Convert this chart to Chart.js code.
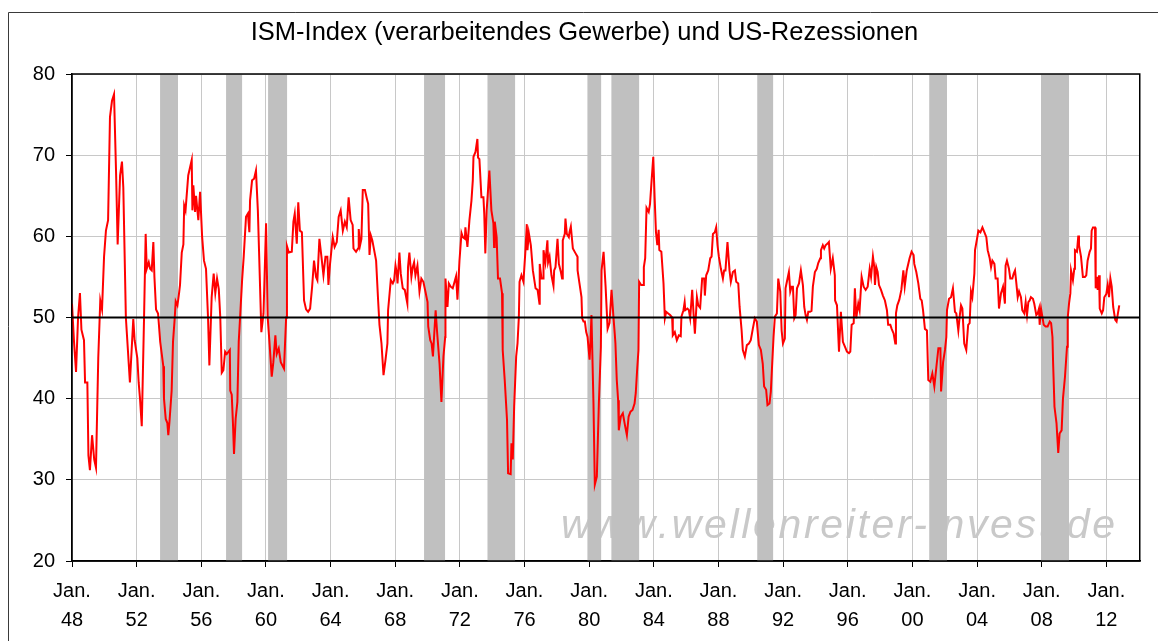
<!DOCTYPE html>
<html>
<head>
<meta charset="utf-8">
<title>ISM-Index und US-Rezessionen</title>
<script src="https://cdn.jsdelivr.net/npm/chart.js@4/dist/chart.umd.min.js"></script>
<style>
    html, body { margin: 0; padding: 0; background: #fff; }
    canvas { display: block; }
</style>
</head>
<body>
<canvas id="ismChart" width="1158" height="641"></canvas>
<script>
// ISM manufacturing index, [months since Jan. 1948, value]
const ism1940s = [
    [0, 51.7], [1.5, 47], [3, 43.3], [4.5, 50], [5.9, 53], [7, 48.5], [8.9, 47.2], [9.7, 42], [11.4, 42],
    [12.2, 33], [13.3, 31.2], [14.9, 35.5], [16.5, 32.5], [17.8, 31.5], [19.5, 45], [21, 52.1], [22.3, 51]
];
const ism1950s = [
    [23.8, 57.5], [25.2, 60.7], [26.8, 62], [28.2, 74.7], [29.7, 76.7], [31.2, 77.5], [32.7, 68], [33.9, 59],
    [35.7, 67.5], [37.1, 69.2], [38.1, 66], [40, 50], [43, 42], [45.5, 49.8], [46.5, 47.2], [48.5, 45],
    [49.5, 42], [50.5, 40], [51.8, 36.6], [53.5, 50], [54.7, 60.3], [55.5, 56], [57, 56.8], [58, 56],
    [59.2, 55.8], [60.4, 59.3], [61.2, 55], [62.4, 51], [63.9, 50.5], [65.5, 47], [67.8, 44], [68.3, 40],
    [69.6, 37.5], [70.8, 37], [71.5, 35.5], [72.3, 37], [74, 41], [75, 47], [76.3, 50], [77, 52],
    [78.3, 51.5], [79.5, 53], [80.2, 54], [81.5, 58], [82.7, 59], [83.3, 63.8], [84.3, 63.2], [86.3, 67.5],
    [88.9, 69.4], [89.4, 63.2], [90.1, 66.3], [91.4, 63], [92.1, 65], [93.8, 62], [95.1, 65.5], [96.6, 60],
    [98, 57], [99.5, 56], [101, 50], [102, 44.1], [103.7, 52.5], [105.2, 55.4], [106.4, 53], [107.7, 54.8],
    [109, 53.5], [110.1, 50], [111.2, 43.2], [112.4, 43.5], [113.7, 45.8], [114.9, 45.5], [117.2, 46],
    [117.5, 41], [118.6, 40.5], [119.5, 37], [120.3, 33.2], [121.5, 37.5], [122.8, 39.6], [123.8, 47],
    [124.8, 50], [126.3, 54.6], [127.5, 57.5], [129.2, 62.4], [130.6, 62.8], [131.7, 60.5], [132.2, 64.4],
    [133.7, 66.9], [135.2, 67.1], [136.6, 68.1], [138, 63.2], [139, 57.5], [140.6, 48.2], [142.2, 50.5]
];
const ism1960s = [
    [144.1, 61.6], [145.3, 50], [146.6, 47], [148.3, 42.7], [149.5, 44.5], [151, 47.8], [152, 45.5],
    [153.5, 46.2], [155, 44.5], [157.4, 43.7], [159, 50], [159.6, 58.8], [161, 58], [163.2, 58.1],
    [164.4, 61.8], [165.4, 62.8], [166.9, 59.1], [168, 64.2], [169.2, 60.7], [170.7, 60.5], [172.3, 52.1],
    [173.8, 51], [175.3, 50.7], [176.8, 51.1], [178.3, 53.8], [179.7, 57], [181.2, 55], [182.2, 54.6],
    [183.7, 59.7], [185.2, 57.5], [186.7, 55.2], [188.2, 57.5], [189.6, 57.5], [190.4, 54], [191.6, 56.6],
    [193.6, 59.9], [195, 58.7], [196.6, 59.3], [198, 62.4], [199.5, 63.2], [201.1, 60.7], [202.6, 61.8],
    [204, 61.1], [205.4, 64.8], [206.9, 62], [208.4, 61.4], [209, 58.5], [210.9, 58.1], [212.4, 58.5],
    [212.9, 60.9], [213.9, 58.9], [214.9, 59.7], [215.9, 65.7], [217.5, 65.7], [219, 64.6], [219.9, 64],
    [220.9, 57.7], [221.9, 60.1], [223, 59.5], [225.8, 57], [227.3, 52.1], [228.3, 49.1], [229.8, 46.8],
    [231.3, 42.9], [232.8, 44.8], [234.2, 46.8], [234.7, 50.9], [236.7, 54.6], [238.2, 54.2], [239.2, 54.6],
    [240.2, 56.4], [241.2, 55.4], [241.7, 54.2], [243.1, 58], [244.1, 55.4], [245.6, 53.6], [247.1, 53.4],
    [249, 51.7], [249.5, 56.2], [250.5, 58], [252, 55], [253, 56.2], [254, 56.8], [255, 55.2], [256.5, 56.4],
    [258, 53.2], [259.4, 54.8], [260.9, 54.4], [262.4, 53.2]
];
const ism1970s = [
    [264, 51.9], [264.5, 48.9], [266, 47.2], [267, 46.8], [268, 45.2], [270, 50.9], [271, 48.4],
    [272.9, 44.3], [274.3, 39.6], [275.8, 45.2], [277.1, 47.6], [277.3, 54.8], [278.8, 51.3], [279.8, 54.2],
    [281.2, 53.8], [282.7, 53.6], [283.7, 54.2], [285.2, 55.1], [286.2, 52.2], [287.7, 57], [289.2, 60.4],
    [290.2, 59.9], [291.7, 59.7], [292.1, 61.1], [293.6, 58.7], [295.1, 62], [296.6, 64.4], [297.6, 66.9],
    [298.1, 69.8], [299.6, 70.4], [301, 72], [301.5, 69.7], [302.5, 69.5], [304, 64.8], [305.5, 64.8],
    [306.1, 62.8], [306.9, 57.9], [307.9, 63.2], [309.4, 66.9], [309.9, 68.1], [311.4, 63.2], [312.9, 61.6],
    [313.4, 58.7], [313.9, 61.8], [315.3, 59.9], [316.3, 54.8], [317.8, 54.8], [319.3, 53], [319.8, 46],
    [321.3, 42.3], [323, 37.4], [323.8, 30.8], [325.7, 30.7], [326.3, 34.5], [327.3, 32.5], [328.3, 39],
    [329.8, 45.2], [330.8, 46.8], [331.8, 50.1], [332.3, 54.4], [333.7, 55.2], [335.2, 54.4], [336.7, 58.3],
    [337.7, 61.5], [338.2, 58.3], [339.2, 60.4], [340.7, 58.9], [342.2, 55.8], [344.2, 53.6], [345.7, 53.4],
    [347.1, 51.7], [347.3, 56.6], [348.6, 54.8], [349.8, 54.8], [350.1, 58.3], [351.5, 56.8], [353, 59.5],
    [353.5, 56.8], [354.6, 57.5], [356, 55.2], [357.5, 53.9], [358, 55.8], [359, 56.2], [360.5, 59.7],
    [361.5, 56.6], [363, 55.6], [363.9, 54.8], [364.4, 59.5], [365.9, 60.3], [366.4, 62.2], [367.4, 60.3],
    [368.9, 59.9], [369.4, 60.5], [370.4, 61.2], [371.9, 58.5], [373.9, 57.9], [375.3, 57.5], [375.4, 55.8],
    [376.8, 54.2], [378.3, 52.5], [378.8, 49.9], [379.8, 49.5], [380.8, 49.5], [381.8, 48.2], [382.8, 47.6]
];
const ism1980s = [
    [384.3, 44.8], [385, 47.2], [385.7, 50.3], [387.2, 39.4], [388.2, 29.4], [389.7, 30.4], [391.2, 39.4],
    [392.7, 46.4], [393.2, 55.8], [394.7, 58.1], [396.2, 53.8], [397.7, 48.6], [399.1, 49.3], [400.6, 53.4],
    [402.1, 49.9], [403, 48], [403.5, 46.8], [404.5, 42.3], [405.5, 39.8], [406, 36.1], [407.5, 37.8],
    [409, 38.2], [410.5, 36.8], [412, 35.5], [413.3, 37.8], [414.7, 38.4], [416.2, 38.6], [417.7, 39.4],
    [418.6, 40.7], [419.6, 43.5], [420.6, 46], [421.1, 54.4], [422.6, 54], [424.1, 54], [424.6, 56.2],
    [425.6, 57.3], [426.6, 63.5], [428.2, 63], [429.2, 64], [430.2, 66.5], [431.6, 69.8], [432.6, 64.8],
    [433.6, 60.5], [434.6, 58.9], [435.6, 60.8], [436.1, 58.3], [437.6, 58.1], [439.2, 54.2], [440.2, 49.9],
    [441.2, 50.7], [442.7, 50.5], [444.1, 50.3], [445.6, 50], [446.1, 47.8], [447.6, 48.2], [449.1, 47.2],
    [450.6, 47.8], [452, 47.7], [452.5, 50.1], [454, 50.9], [454.9, 51.9], [455.4, 50.9], [457, 51.1],
    [458, 50.9], [459, 49.9], [460.5, 53.4], [461.5, 50.5], [462.5, 48], [464, 52.5], [465, 51.5],
    [466.4, 51.2], [467.9, 54.8], [469.4, 54.8], [469.9, 52.7], [470.9, 55.2], [472.4, 55.8], [473.9, 57.3],
    [474.9, 57.5], [475.9, 60.3], [477.3, 60.5], [478.3, 61.1], [479.3, 58.9], [480.3, 57.5], [481.8, 56],
    [483.3, 54.8], [484.2, 55.8], [485.2, 55.8], [486.7, 59.3], [488.2, 55.8], [489.2, 54.4], [490.7, 55.6],
    [492.2, 55.8], [493.2, 54.4], [494.7, 54.2], [495.7, 51.3], [497.2, 48.4], [498.1, 46], [499.6, 45.2],
    [501.1, 46.6], [502.6, 46.8]
];
const ism1990s = [
    [504, 47.2], [505.5, 48.6], [507, 49.9], [508.5, 49.5], [510, 46.6], [511.5, 46], [512.9, 44.3],
    [513.9, 41.5], [515.4, 41.1], [516.4, 39.2], [517.9, 39.4], [518.9, 40.9], [519.9, 44.3], [520.9, 47.6],
    [521.9, 50.1], [523.4, 50.5], [524.4, 54.8], [525.9, 53.2], [526.9, 48.4], [527.9, 46.8], [529.3, 47.4],
    [529.8, 53.6], [530.8, 54.4], [532.3, 55.6], [533.3, 53.2], [534.3, 53.8], [535.3, 53.8], [536.3, 49.9],
    [537.3, 50.3], [538.3, 53.6], [539.8, 54.2], [541.2, 55.8], [542.7, 54], [543.7, 51.3], [544.7, 50.3],
    [545.7, 49.7], [546.7, 50.7], [548, 50.7], [549.1, 50.8], [550.1, 53.8], [551.6, 55.6], [553, 56],
    [554.1, 56.7], [555.6, 57.3], [556.1, 58.3], [557.5, 58.9], [558.5, 58.5], [559.5, 58.9], [561, 59.1],
    [562, 59.3], [563.4, 56], [564.9, 57.3], [566.4, 55.2], [566.6, 52.1], [568, 51.5], [569.5, 45.8],
    [570.9, 50.7], [572.4, 47], [573.9, 46.4], [575.4, 45.8], [576.9, 45.6], [577.9, 45.8], [578.9, 49.1],
    [580.4, 49.3], [581.3, 53.6], [582.3, 49.9], [583.8, 51.7], [584.8, 50.9], [586.3, 55], [587.8, 53.8],
    [589.3, 53.4], [590.8, 53.8], [592.3, 56], [593.3, 55], [594.7, 57.5], [595.7, 56.2], [596.2, 54],
    [597.2, 56.2], [598.2, 55.6], [599.2, 54], [600.7, 53.4], [602.1, 52.7], [603.6, 52.1], [605.1, 50.9],
    [606, 49.1], [607.6, 49.1], [608.6, 48.6], [610.1, 48], [611.3, 46.8], [611.8, 50.5], [612.8, 51.5],
    [614.3, 52.2], [615.8, 53.4], [617.3, 55.8], [618.3, 53.8], [619.8, 55.8], [621.9, 57.3], [623.4, 58.1]
];
const ism2000s = [
    [624.9, 57.7], [625.4, 56.6], [626.9, 55.6], [628.4, 54.2], [629.9, 52.3], [630.9, 52.1], [631.9, 50.9],
    [633.3, 48.6], [634.8, 48.4], [635.8, 42.3], [637.3, 42.1], [638.8, 43.1], [640.3, 41.5], [641.8, 43.9],
    [643.3, 46.2], [644.8, 46.2], [645.3, 40.9], [646.8, 44.5], [648.2, 46], [649.2, 47.6], [649.7, 50.9],
    [651.2, 52.3], [652.7, 52.5], [654.1, 53.6], [655.6, 50.7], [656.6, 50.5], [658.1, 48.4], [659.1, 50.1],
    [660.1, 51.5], [661.1, 51.1], [662.5, 46.8], [664, 46], [665.4, 49.1], [666.5, 49.3], [667.5, 53.2],
    [668.5, 52.5], [670, 55.4], [670.5, 58.3], [672, 59.7], [673, 60.7], [674.5, 60.5], [676, 61.1],
    [677.5, 60.5], [678.9, 59.9], [679.9, 58.3], [681.4, 57.3], [682.4, 56.2], [683.4, 57], [684.9, 56.6],
    [685.8, 54.8], [687.3, 54.8], [688.3, 51.1], [689.8, 53], [691.3, 53.8], [692.7, 51.7], [693.2, 56.4],
    [694.2, 57], [695.7, 56], [696.7, 54.8], [698.2, 54.8], [699.2, 55.4], [700.2, 55.8], [701.2, 54.2],
    [702.2, 52.5], [703.2, 53.2], [704.6, 52.5], [705.6, 50.9], [707.1, 50.5], [708.1, 51.9], [709.1, 50.3],
    [710.1, 51.9], [711.1, 52.1], [712, 52.5], [713.5, 52.3], [714.5, 51.7], [716, 50.3], [717, 50.5],
    [718, 51.1], [718.5, 49.1], [719.5, 51.1], [720.5, 50.1], [721.5, 49.1], [722.9, 48.9], [724.4, 48.9],
    [726, 49.5], [727, 49.3], [728, 47.6], [728.5, 44.3], [729.5, 39], [731, 37], [732.3, 33.3],
    [733.3, 35.7], [734.8, 36.1], [735.8, 40], [737.3, 42.7], [738.8, 46.4], [739.3, 49.9], [740.3, 51.7],
    [741.3, 53], [741.8, 55.8], [743.2, 54.6]
];
const ism2010s = [
    [744.2, 56], [744.7, 58.3], [746.2, 58.1], [747.2, 60.1], [747.7, 58.9], [749.2, 57.5], [750.6, 55],
    [752.1, 55], [753.1, 55.2], [754.1, 57], [755.6, 58.1], [756.6, 58.5], [757.1, 60.7], [758.1, 61.1],
    [759.6, 61.1], [760.1, 53.6], [761.1, 55], [761.6, 53.4], [762.6, 55.2], [763.1, 51.1], [764.6, 50.5],
    [765.6, 50.9], [766.5, 52.5], [768, 52.9], [769, 54], [770, 52.5], [771, 54.8], [772, 53.8],
    [773.1, 51.3], [774.6, 49.7], [775.6, 49.5], [776.6, 50.5], [777.6, 51.5]
];

// US recessions (grey bands), months since Jan. 1948
const recessionStart = [65.4, 114.4, 145.6, 261.4, 308.5, 382.7, 400.5, 508.8, 636.5, 719.5];
const recessionEnd = [78.7, 126.3, 159.7, 277, 329, 392.9, 421.1, 520.6, 649.7, 740.3];

// x axis: a label every 4 years, starting Jan. 1948
const tickYears = ['48', '52', '56', '60', '64', '68', '72', '76', '80', '84', '88', '92', '96', '00', '04', '08', '12'];
const lastMonth = 793;
const threshold = 50;

const FONT = '"Liberation Sans", Arial, Helvetica, sans-serif';

const ismPoints = [].concat(ism1940s, ism1950s, ism1960s, ism1970s, ism1980s, ism1990s, ism2000s, ism2010s)
    .map(p => ({ x: p[0], y: p[1] }));
const tickMonths = tickYears.map((y, i) => i * 48);

const framePlugin = {
    id: 'frame',
    beforeDraw(chart) {
        const ctx = chart.ctx;
        const area = chart.chartArea;
        ctx.save();
        // outer frame (only left and top are inside the picture)
        ctx.strokeStyle = '#3a3a3a';
        ctx.lineWidth = 1;
        ctx.beginPath();
        ctx.moveTo(8.5, chart.height);
        ctx.lineTo(8.5, 12.5);
        ctx.lineTo(chart.width, 12.5);
        ctx.stroke();

        // watermark, spread out over a fixed width
        const text = 'www.wellenreiter-invest.de';
        ctx.font = 'italic 41px ' + FONT;
        ctx.fillStyle = '#c9c9c9';
        ctx.textBaseline = 'alphabetic';
        const x0 = area.left + 489;
        const x1 = area.right - 25;
        let natural = 0;
        for (const ch of text) natural += ctx.measureText(ch).width;
        const gap = (x1 - x0 - natural) / (text.length - 1);
        let x = x0;
        for (const ch of text) {
            ctx.fillText(ch, x, area.bottom - 23);
            x += ctx.measureText(ch).width + gap;
        }
        ctx.restore();
    },
    beforeDatasetsDraw(chart) {
        const ctx = chart.ctx;
        const area = chart.chartArea;
        const xs = chart.scales.x;
        ctx.save();
        ctx.fillStyle = '#c0c0c0';
        recessionStart.forEach((start, i) => {
            const a = xs.getPixelForValue(start);
            const b = xs.getPixelForValue(recessionEnd[i]);
            ctx.fillRect(a, area.top, b - a, area.bottom - area.top);
        });
        ctx.restore();
    },
    afterDatasetsDraw(chart) {
        const ctx = chart.ctx;
        const area = chart.chartArea;
        ctx.save();
        ctx.strokeStyle = '#000';
        ctx.lineWidth = 1.5;
        ctx.strokeRect(Math.round(area.left) - 0.25, Math.round(area.top),
            Math.round(area.right - area.left), Math.round(area.bottom - area.top));
        ctx.restore();
    }
};

new Chart(document.getElementById('ismChart'), {
    type: 'line',
    data: {
        datasets: [{
            label: 'ISM-Index',
            data: ismPoints,
            borderColor: '#ff0000',
            borderWidth: 2,
            pointRadius: 0,
            tension: 0,
            order: 1
        }, {
            label: '50',
            data: [{ x: 0, y: threshold }, { x: lastMonth, y: threshold }],
            borderColor: '#000',
            borderWidth: 2,
            pointRadius: 0,
            order: 0
        }]
    },
    options: {
        responsive: false,
        animation: false,
        devicePixelRatio: 1,
        layout: {
            padding: { left: 29, right: 18, top: 0, bottom: 0 }
        },
        plugins: {
            legend: { display: false },
            tooltip: { enabled: false },
            title: {
                display: true,
                text: 'ISM-Index (verarbeitendes Gewerbe) und US-Rezessionen',
                color: '#000',
                font: { family: FONT, size: 25.5, weight: 'normal', lineHeight: 1.2 },
                padding: { top: 18, bottom: 25.4 }
            }
        },
        scales: {
            x: {
                type: 'linear',
                min: 0,
                max: lastMonth,
                afterFit(scale) { scale.height = 80; },
                afterBuildTicks(scale) {
                    scale.ticks = tickMonths.map(v => ({ value: v }));
                },
                grid: {
                    color: '#c8c8c8',
                    lineWidth: 1,
                    tickColor: '#000',
                    tickLength: 6
                },
                border: { color: '#000', width: 1.5 },
                ticks: {
                    color: '#000',
                    padding: 10,
                    maxRotation: 0,
                    autoSkip: false,
                    font: { family: FONT, size: 20, lineHeight: 1.45 },
                    callback(value) {
                        const i = tickMonths.indexOf(value);
                        return i < 0 ? '' : ['Jan.', tickYears[i]];
                    }
                }
            },
            y: {
                min: 20,
                max: 80,
                afterFit(scale) { scale.width = 43; },
                grid: {
                    color: '#c8c8c8',
                    lineWidth: 1,
                    tickColor: '#000',
                    tickLength: 6
                },
                border: { color: '#000', width: 1.5 },
                ticks: {
                    stepSize: 10,
                    color: '#000',
                    padding: 11,
                    font: { family: FONT, size: 20 }
                }
            }
        }
    },
    plugins: [framePlugin]
});
</script>
</body>
</html>
